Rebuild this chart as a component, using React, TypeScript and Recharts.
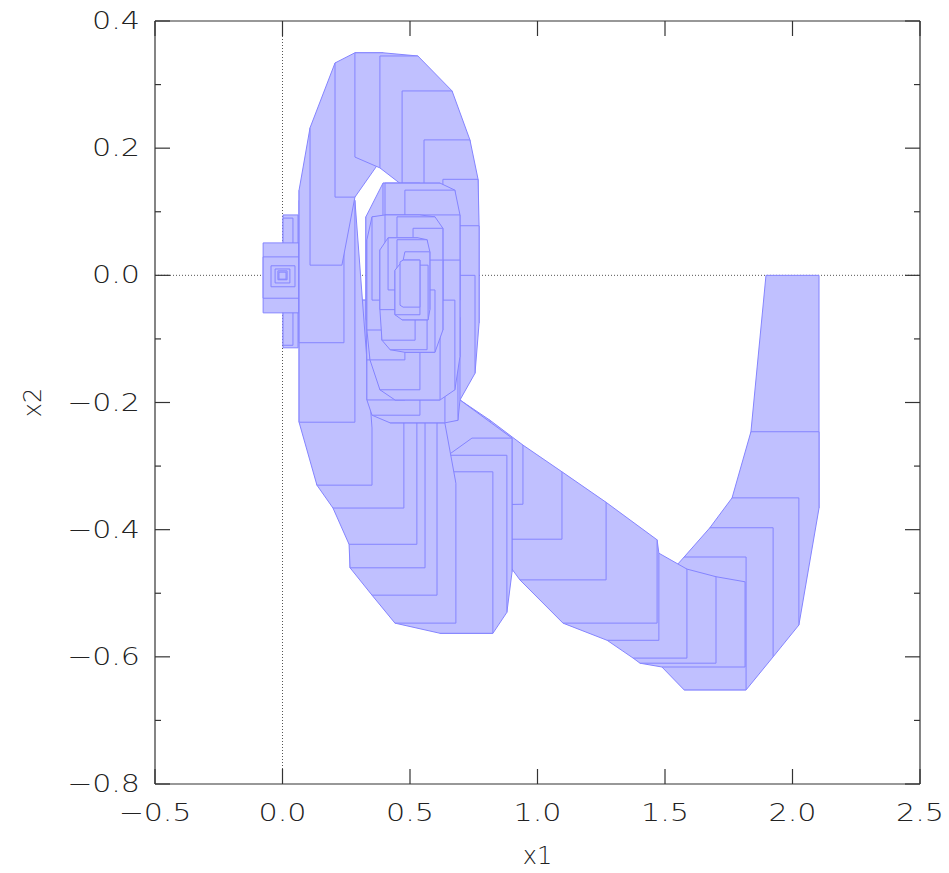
import React from 'react';
import { ScatterChart, Scatter, XAxis, YAxis } from 'recharts';

type Box = [number, number, number, number]; // [x1 min, x1 max, x2 min, x2 max]

// ---- tick values ----
const xTicks = [-0.5, 0, 0.5, 1, 1.5, 2, 2.5];
const yTicks = [-0.8, -0.7, -0.6, -0.5, -0.4, -0.3, -0.2, -0.1, 0, 0.1, 0.2, 0.3, 0.4];
const yLabelled = [-0.8, -0.6, -0.4, -0.2, 0, 0.2, 0.4];

// ---- reach-set boxes, in trajectory order ----
const rightBand: Box[] = [
  [1.896, 2.104, -0.025, 0.0],
  [1.837, 2.104, -0.366, -0.246],
  [1.763, 2.025, -0.55, -0.35],
  [1.676, 1.924, -0.6, -0.397],
  [1.575, 1.818, -0.652, -0.443],
];

const bottomBand: Box[] = [
  [1.488, 1.814, -0.616, -0.482],
  [1.402, 1.7, -0.61, -0.474],
  [1.375, 1.586, -0.602, -0.462],
  [1.273, 1.476, -0.574, -0.437],
  [1.1, 1.469, -0.547, -0.416],
  [0.931, 1.269, -0.479, -0.357],
  [0.814, 1.096, -0.415, -0.309],
  [0.775, 0.943, -0.36, -0.267],
  [0.637, 0.814, -0.361, -0.228],
  [0.559, 0.696, -0.338, -0.196],
];

const lowerLeftBand: Box[] = [
  [0.743, 0.9, -0.467, -0.256],
  [0.649, 0.88, -0.53, -0.283],
  [0.618, 0.825, -0.563, -0.309],
  [0.441, 0.68, -0.547, -0.327],
  [0.351, 0.606, -0.503, -0.165],
  [0.265, 0.559, -0.46, -0.117],
  [0.261, 0.527, -0.423, -0.086],
  [0.198, 0.476, -0.366, -0.039],
  [0.135, 0.351, -0.33, -0.24],
  [0.065, 0.284, -0.231, 0.118],
  [0.065, 0.241, -0.106, 0.134],
];

const leftBand: Box[] = [
  [0.108, 0.233, 0.016, 0.232],
  [0.206, 0.284, 0.123, 0.334],
  [0.284, 0.394, 0.186, 0.35],
];

const outerLoop: Box[] = [
  [0.382, 0.531, 0.169, 0.345],
  [0.469, 0.665, 0.142, 0.29],
  [0.555, 0.735, 0.071, 0.213],
  [0.629, 0.767, 0.0, 0.151],
  [0.661, 0.771, -0.075, 0.078],
  [0.637, 0.755, -0.154, 0.0],
  [0.586, 0.696, -0.196, -0.066],
  [0.5, 0.688, -0.228, -0.102],
  [0.422, 0.637, -0.232, -0.094],
];

const secondLoop: Box[] = [
  [0.351, 0.539, -0.22, -0.07],
  [0.331, 0.48, -0.196, -0.007],
  [0.331, 0.461, -0.133, 0.071],
  [0.327, 0.48, -0.07, 0.092],
  [0.394, 0.539, -0.007, 0.145],
  [0.402, 0.618, 0.024, 0.145],
  [0.48, 0.676, 0.008, 0.134],
  [0.539, 0.696, -0.039, 0.095],
  [0.559, 0.696, -0.128, 0.024],
  [0.52, 0.676, -0.18, -0.039],
  [0.441, 0.618, -0.196, -0.07],
  [0.382, 0.539, -0.18, -0.054],
];

const thirdLoop: Box[] = [
  [0.343, 0.48, -0.133, -0.007],
  [0.331, 0.461, -0.086, 0.056],
  [0.351, 0.48, -0.039, 0.092],
  [0.402, 0.539, 0.008, 0.095],
  [0.449, 0.598, 0.016, 0.092],
  [0.512, 0.629, -0.039, 0.074],
  [0.52, 0.629, -0.086, 0.024],
  [0.48, 0.598, -0.121, -0.023],
  [0.422, 0.567, -0.117, -0.039],
];

const innerLoop: Box[] = [
  [0.39, 0.52, -0.102, -0.007],
  [0.382, 0.5, -0.054, 0.04],
  [0.414, 0.531, -0.023, 0.059],
  [0.449, 0.567, -0.023, 0.056],
  [0.48, 0.578, -0.054, 0.037],
  [0.469, 0.571, -0.07, 0.016],
  [0.441, 0.539, -0.062, 0.008],
  [0.473, 0.539, -0.05, 0.024],
  [0.461, 0.531, -0.047, 0.021],
];

const originBoxes: Box[] = [
  [0.002, 0.061, -0.114, 0.095],
  [0.002, 0.041, -0.11, 0.09],
  [-0.076, 0.065, -0.059, 0.051],
  [-0.076, 0.065, -0.036, 0.029],
  [-0.045, 0.049, -0.018, 0.015],
  [-0.029, 0.029, -0.012, 0.01],
  [-0.018, 0.018, -0.007, 0.007],
  [-0.014, 0.014, -0.006, 0.005],
];

// ---- styles ----
const FILL = '#c0c0ff';
const EDGE = '#8484ff';
const AXIS = '#333333';
const FONT = "'DejaVu Sans', 'Liberation Sans', sans-serif";

// ---- geometry helpers (data space) ----
type Pt = [number, number];
const corners = (b: Box): Pt[] => [
  [b[0], b[2]],
  [b[1], b[2]],
  [b[1], b[3]],
  [b[0], b[3]],
];
const cross = (o: Pt, a: Pt, b: Pt) => (a[0] - o[0]) * (b[1] - o[1]) - (a[1] - o[1]) * (b[0] - o[0]);
function hull(points: Pt[]): Pt[] {
  const p = [...points].sort((a, b) => a[0] - b[0] || a[1] - b[1]);
  const lower: Pt[] = [];
  for (const q of p) {
    while (lower.length >= 2 && cross(lower[lower.length - 2], lower[lower.length - 1], q) <= 0) lower.pop();
    lower.push(q);
  }
  const upper: Pt[] = [];
  for (let i = p.length - 1; i >= 0; i--) {
    const q = p[i];
    while (upper.length >= 2 && cross(upper[upper.length - 2], upper[upper.length - 1], q) <= 0) upper.pop();
    upper.push(q);
  }
  lower.pop();
  upper.pop();
  return lower.concat(upper);
}

const trajectory: Box[] = [
  ...rightBand,
  ...bottomBand,
  ...lowerLeftBand,
  ...leftBand,
  ...outerLoop,
  ...secondLoop,
  ...thirdLoop,
  ...innerLoop,
];

const toData = (pts: Pt[]) => pts.map(([x, y]) => ({ x, y }));

const polygons: { x: number; y: number }[][] = [
  ...originBoxes.map((b) => toData(hull(corners(b)))),
  ...trajectory.slice(0, -1).map((b, i) => toData(hull([...corners(b), ...corners(trajectory[i + 1])]))),
];

const zeroH = [
  { x: -0.5, y: 0 },
  { x: 2.5, y: 0 },
];
const zeroV = [
  { x: 0, y: -0.8 },
  { x: 0, y: 0.4 },
];
const frameCorners = [
  { x: -0.5, y: -0.8 },
  { x: 2.5, y: 0.4 },
];

// ---- renderers ----
const noShape = () => <g />;

const renderPolygon = (lp: any) => {
  const pts: { x: number; y: number }[] = lp.points || [];
  if (!pts.length) return <g />;
  return (
    <polygon
      points={pts.map((p) => `${p.x},${p.y}`).join(' ')}
      fill={FILL}
      stroke={EDGE}
      strokeWidth={1}
      strokeLinejoin="miter"
    />
  );
};

const renderDotted = (lp: any) => {
  const pts: { x: number; y: number }[] = lp.points || [];
  if (pts.length < 2) return <g />;
  return (
    <line
      x1={pts[0].x}
      y1={pts[0].y}
      x2={pts[1].x}
      y2={pts[1].y}
      stroke="#555"
      strokeWidth={1}
      strokeDasharray="1 2"
    />
  );
};

const fmt = (v: number) => {
  const s = Math.abs(v).toFixed(1);
  return v < -1e-9 ? '\u2212' + s : s;
};
const labelWidth = (s: string) => (s.startsWith('\u2212') ? 73 : 48);
const isMajorY = (v: number) => yLabelled.some((t) => Math.abs(t - v) < 1e-6);

const textStyle = {
  fontFamily: FONT,
  fontSize: 24,
  fontWeight: 200,
  fill: '#222',
} as const;

const Label = ({ x, y, s, anchor }: { x: number; y: number; s: string; anchor: 'start' | 'middle' | 'end' }) => (
  <text
    x={x}
    y={y}
    textAnchor={anchor}
    dominantBaseline="central"
    textLength={labelWidth(s)}
    lengthAdjust="spacingAndGlyphs"
    {...textStyle}
  >
    {s}
  </text>
);

const BottomTick = (p: any) => {
  const { x, y, payload } = p;
  return (
    <g>
      <line x1={x} x2={x} y1={y} y2={y - 15} stroke={AXIS} strokeWidth={1.2} />
      <Label x={x} y={y + 29} s={fmt(payload.value)} anchor="middle" />
    </g>
  );
};

const TopTick = (p: any) => {
  const { x, y } = p;
  return <line x1={x} x2={x} y1={y} y2={y + 15} stroke={AXIS} strokeWidth={1.2} />;
};

const LeftTick = (p: any) => {
  const { x, y, payload } = p;
  const major = isMajorY(payload.value);
  return (
    <g>
      <line x1={x} x2={x + (major ? 15 : 6)} y1={y} y2={y} stroke={AXIS} strokeWidth={1.2} />
      {major && <Label x={x - 15} y={y} s={fmt(payload.value)} anchor="end" />}
    </g>
  );
};

const RightTick = (p: any) => {
  const { x, y, payload } = p;
  const major = isMajorY(payload.value);
  return <line x1={x} x2={x - (major ? 15 : 6)} y1={y} y2={y} stroke={AXIS} strokeWidth={1.2} />;
};

const XTitle = (lp: any) => {
  const vb = lp.viewBox || { x: 155, y: 784, width: 765, height: 89 };
  return (
    <text x={vb.x + vb.width / 2} y={vb.y + 72} textAnchor="middle" dominantBaseline="central" {...textStyle}>
      x1
    </text>
  );
};

const YTitle = (lp: any) => {
  const vb = lp.viewBox || { x: 0, y: 21, width: 155, height: 763 };
  const cx = vb.x + 33;
  const cy = vb.y + vb.height / 2;
  return (
    <text
      x={cx}
      y={cy}
      transform={`rotate(-90 ${cx} ${cy})`}
      textAnchor="middle"
      dominantBaseline="central"
      {...textStyle}
    >
      x2
    </text>
  );
};

export default function App() {
  return (
    <div style={{ position: 'absolute', left: 0, top: 0, width: 949, height: 873 }}>
      <ScatterChart width={949} height={873} margin={{ top: 20, right: 28, bottom: 0, left: 0 }}>
        <XAxis
          xAxisId="b"
          type="number"
          dataKey="x"
          orientation="bottom"
          domain={[-0.5, 2.5]}
          ticks={xTicks}
          interval={0}
          allowDataOverflow
          height={89}
          tickSize={0}
          tickMargin={0}
          tickLine={false}
          axisLine={{ stroke: AXIS, strokeWidth: 1.2 }}
          tick={<BottomTick />}
          label={{ content: <XTitle /> }}
        />
        <XAxis
          xAxisId="t"
          type="number"
          dataKey="x"
          orientation="top"
          domain={[-0.5, 2.5]}
          ticks={xTicks}
          interval={0}
          allowDataOverflow
          height={1}
          tickSize={0}
          tickMargin={0}
          tickLine={false}
          axisLine={{ stroke: AXIS, strokeWidth: 1.2 }}
          tick={<TopTick />}
        />
        <YAxis
          yAxisId="l"
          type="number"
          dataKey="y"
          orientation="left"
          domain={[-0.8, 0.4]}
          ticks={yTicks}
          interval={0}
          allowDataOverflow
          width={155}
          tickSize={0}
          tickMargin={0}
          tickLine={false}
          axisLine={{ stroke: AXIS, strokeWidth: 1.2 }}
          tick={<LeftTick />}
          label={{ content: <YTitle /> }}
        />
        <YAxis
          yAxisId="r"
          type="number"
          dataKey="y"
          orientation="right"
          domain={[-0.8, 0.4]}
          ticks={yTicks}
          interval={0}
          allowDataOverflow
          width={1}
          tickSize={0}
          tickMargin={0}
          tickLine={false}
          axisLine={{ stroke: AXIS, strokeWidth: 1.2 }}
          tick={<RightTick />}
        />
        <Scatter xAxisId="t" yAxisId="r" data={frameCorners} shape={noShape} isAnimationActive={false} />
        <Scatter
          xAxisId="b"
          yAxisId="l"
          data={zeroH}
          line={renderDotted}
          lineType="joint"
          shape={noShape}
          isAnimationActive={false}
        />
        <Scatter
          xAxisId="b"
          yAxisId="l"
          data={zeroV}
          line={renderDotted}
          lineType="joint"
          shape={noShape}
          isAnimationActive={false}
        />
        {polygons.map((poly, i) => (
          <Scatter
            key={`poly-${i}`}
            xAxisId="b"
            yAxisId="l"
            data={poly}
            line={renderPolygon}
            lineType="joint"
            shape={noShape}
            isAnimationActive={false}
          />
        ))}
      </ScatterChart>
    </div>
  );
}
